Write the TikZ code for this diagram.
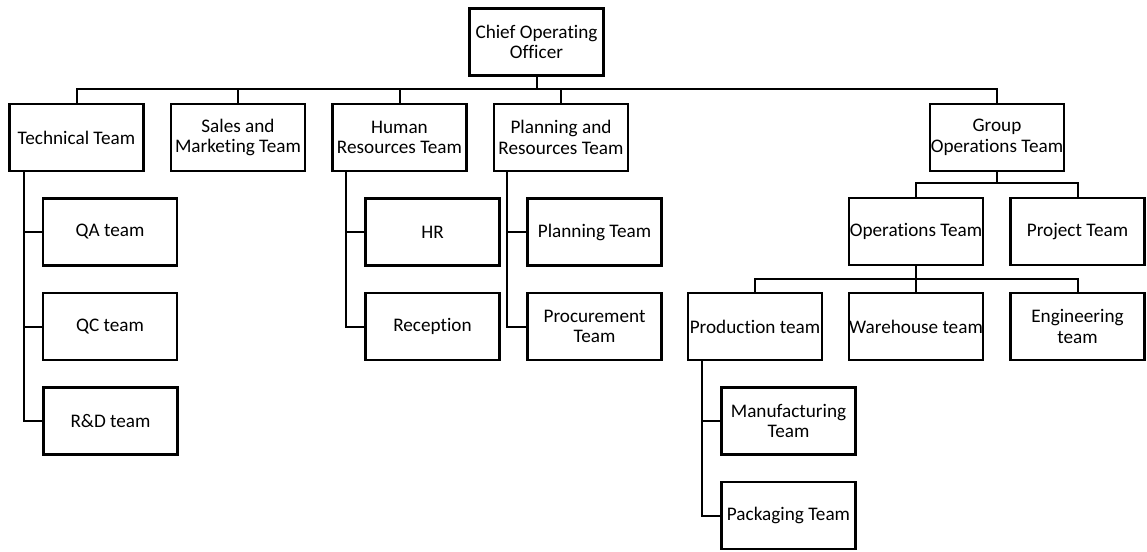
\documentclass[tikz,border=0pt]{standalone}
\usepackage{fontspec}
\setmainfont{Carlito}[Ligatures={NoCommon}]
\begin{document}
\begin{tikzpicture}[x=0.75pt,y=-0.75pt,
  unit/.style={draw=black, line width=1.8pt, fill=white, minimum width=100.5pt,
    minimum height=50.25pt, inner sep=0pt, outer sep=0pt, align=center,
    font=\fontsize{14.4}{15.4}\selectfont},
  link/.style={draw=black, line width=1.5pt}]
\useasboundingbox (0,0) rectangle (1147,551);

% top level
\node[unit] (coo) at (536.5,42) {Chief Operating\\Officer};

% departments
\node[unit] (tech)  at (76.5,137.5) {Technical Team};
\node[unit] (sales) at (238,137.5)  {Sales and\\Marketing Team};
\node[unit] (hum)   at (399.5,137.5) {Human\\Resources Team};
\node[unit] (plan)  at (561,137.5)  {Planning and\\Resources Team};
\node[unit] (grp)   at (997,137.5)  {Group\\Operations Team};

% technical teams
\node[unit] (qa) at (110,232)   {QA team};
\node[unit] (qc) at (110,326.5) {QC team};
\node[unit] (rd) at (110.5,421) {R\&D team};

% human resources teams
\node[unit] (hr)  at (432.5,232)   {HR};
\node[unit] (rec) at (432.5,326.5) {Reception};

% planning teams
\node[unit] (plt)  at (594.5,232)   {Planning Team};
\node[unit] (proc) at (594.5,326.5) {Procurement\\Team};

% group operations
\node[unit] (ops)  at (916,231.5)    {Operations Team};
\node[unit] (proj) at (1077.5,231.5) {Project Team};
\node[unit] (prod) at (755,326.5)    {Production team};
\node[unit] (wh)   at (916,326.5)    {Warehouse team};
\node[unit] (eng)  at (1077.5,326.5) {Engineering\\team};
\node[unit] (man)  at (788.5,421)    {Manufacturing\\Team};
\node[unit] (pack) at (788.5,515.5)  {Packaging Team};

% bus from the chief operating officer
\foreach \c in {tech,sales,hum,plan,grp}
  \draw[link] (\c.north) -- ++(0,-15) -| (coo.south);

% bus from group operations
\foreach \c in {ops,proj}
  \draw[link] (\c.north) -- ++(0,-15) -| (grp.south);

% bus from operations team
\foreach \c in {prod,wh,eng}
  \draw[link] (\c.north) -- ++(0,-14) -| (ops.south);

% side rails
\foreach \c in {qa,qc,rd}
  \draw[link] (tech.south west) ++(14,0) |- (\c.west);
\foreach \c in {hr,rec}
  \draw[link] (hum.south west) ++(13,0) |- (\c.west);
\foreach \c in {plt,proc}
  \draw[link] (plan.south west) ++(13,0) |- (\c.west);
\foreach \c in {man,pack}
  \draw[link] (prod.south west) ++(14,0) |- (\c.west);
\end{tikzpicture}
\end{document}
